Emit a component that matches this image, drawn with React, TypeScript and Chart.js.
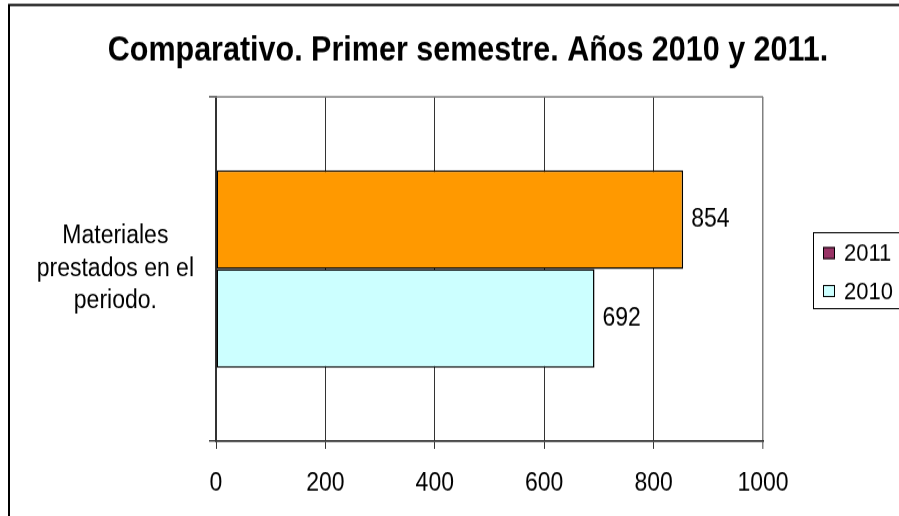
import React, { useEffect, useRef } from 'react';
import { Chart, registerables } from 'chart.js';

Chart.register(...registerables);

const chartTitle = 'Comparativo. Primer semestre. Años 2010 y 2011.';
const categories = [['Materiales', 'prestados en el', 'periodo.']];
const seriesNames = ['2011', '2010'];
const values2011 = [854];
const values2010 = [692];
const xTickValues = [0, 200, 400, 600, 800, 1000];
const barColors = ['#FF9900', '#CCFFFF'];
const legendColors = ['#993366', '#CCFFFF'];

const FONT = "'Liberation Sans', Arial, sans-serif";
// canvas is drawn at a shorter internal height and stretched vertically (like the reference image)
const W = 899;
const H_INTERNAL = 469;
const H_DISPLAY = 516;

const decorPlugin = {
  id: 'decor',
  beforeDraw(chart: any) {
    const ctx = chart.ctx;
    ctx.save();
    ctx.fillStyle = '#ffffff';
    ctx.fillRect(0, 0, chart.width, chart.height);
    ctx.restore();
  },
  afterDraw(chart: any) {
    const ctx = chart.ctx;
    const area = chart.chartArea;
    ctx.save();
    // outer frame
    ctx.strokeStyle = '#000000';
    ctx.lineWidth = 2;
    ctx.beginPath();
    ctx.moveTo(9, chart.height + 2);
    ctx.lineTo(9, 4.5);
    ctx.lineTo(chart.width + 2, 4.5);
    ctx.stroke();
    // top plot border
    ctx.strokeStyle = '#808080';
    ctx.lineWidth = 1.4;
    ctx.beginPath();
    ctx.moveTo(area.left - 7, area.top);
    ctx.lineTo(area.right, area.top);
    ctx.stroke();
    // title
    ctx.fillStyle = '#000000';
    ctx.font = `bold 30.5px ${FONT}`;
    ctx.textAlign = 'center';
    ctx.textBaseline = 'middle';
    ctx.fillText(chartTitle, 468, 46.5);
    // legend
    const lx = 813, ly = 211, lh = 69;
    ctx.strokeStyle = '#000000';
    ctx.lineWidth = 1;
    ctx.strokeRect(lx + 0.5, ly + 0.5, 200, lh);
    ctx.font = `22px ${FONT}`;
    ctx.textAlign = 'left';
    chart.data.datasets.forEach((ds: any, i: number) => {
      const cy = 230 + i * 34.5;
      ctx.fillStyle = legendColors[i];
      ctx.fillRect(823, cy - 5.5, 12, 11);
      ctx.strokeStyle = '#000000';
      ctx.strokeRect(823.5, cy - 5, 11, 10);
      ctx.fillStyle = '#000000';
      ctx.fillText(ds.label, 844, cy + 1);
    });
    ctx.restore();
  },
  afterDatasetsDraw(chart: any) {
    const ctx = chart.ctx;
    ctx.save();
    ctx.fillStyle = '#000000';
    ctx.font = `23px ${FONT}`;
    ctx.textAlign = 'left';
    ctx.textBaseline = 'middle';
    chart.data.datasets.forEach((ds: any, i: number) => {
      const meta = chart.getDatasetMeta(i);
      meta.data.forEach((el: any, j: number) => {
        ctx.fillText(String(ds.data[j]), el.x + 8, el.y);
      });
    });
    ctx.restore();
  },
};

export default function App() {
  const canvasRef = useRef<HTMLCanvasElement | null>(null);

  useEffect(() => {
    if (!canvasRef.current) return;
    const chart = new Chart(canvasRef.current, {
      type: 'bar',
      data: {
        labels: categories as any,
        datasets: [
          {
            label: seriesNames[0],
            data: values2011,
            backgroundColor: barColors[0],
            borderColor: '#000000',
            borderWidth: 1.5,
            borderSkipped: false,
            categoryPercentage: 0.573,
            barPercentage: 1,
          },
          {
            label: seriesNames[1],
            data: values2010,
            backgroundColor: barColors[1],
            borderColor: '#000000',
            borderWidth: 1.5,
            borderSkipped: false,
            categoryPercentage: 0.573,
            barPercentage: 1,
          },
        ],
      },
      options: {
        indexAxis: 'y',
        animation: false,
        responsive: false,
        devicePixelRatio: 1,
        events: [],
        layout: { padding: { left: 0, right: 136, top: 88, bottom: 0 } },
        plugins: {
          legend: { display: false },
          title: { display: false },
          tooltip: { enabled: false },
        },
        scales: {
          x: {
            type: 'linear',
            min: 0,
            max: 1000,
            afterBuildTicks: (scale: any) => {
              scale.ticks = xTickValues.map((v) => ({ value: v }));
            },
            afterFit: (scale: any) => {
              scale.height = 68;
            },
            grid: {
              color: (c: any) => (c.tick && c.tick.value === 1000 ? '#808080' : '#333333'),
              lineWidth: (c: any) => (c.tick && c.tick.value === 1000 ? 1.5 : 1),
              tickLength: 7,
              drawTicks: true,
            },
            border: { display: true, color: '#333333', width: 1.8 },
            ticks: {
              color: '#000000',
              font: { family: FONT, size: 23 },
              padding: 18,
              maxRotation: 0,
              callback: (v: any) => String(v),
            },
          },
          y: {
            type: 'category',
            afterFit: (scale: any) => {
              scale.width = 216;
            },
            grid: {
              drawOnChartArea: false,
              drawTicks: true,
              tickLength: 7,
              color: '#333333',
              lineWidth: 1.4,
            },
            border: { display: true, color: '#333333', width: 2 },
            ticks: {
              color: '#000000',
              crossAlign: 'center',
              padding: 15,
              font: { family: FONT, size: 23, lineHeight: 1.28 },
            },
          },
        },
      },
      plugins: [decorPlugin],
    } as any);
    return () => chart.destroy();
  }, []);

  return (
    <div style={{ position: 'fixed', left: 0, top: 0, width: W, height: H_DISPLAY, background: '#ffffff' }}>
      <canvas
        ref={canvasRef}
        width={W}
        height={H_INTERNAL}
        style={{ width: `${W}px`, height: `${H_DISPLAY}px`, display: 'block' }}
      />
    </div>
  );
}
